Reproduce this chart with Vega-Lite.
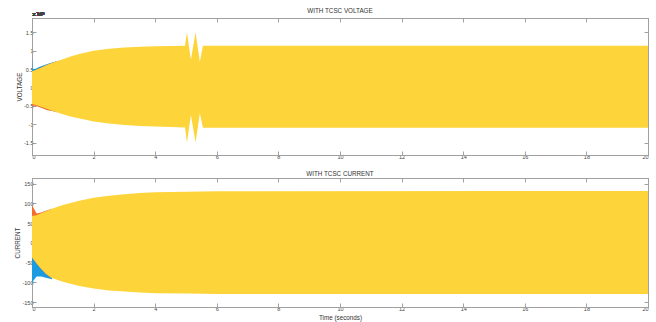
{
  "$schema": "https://vega.github.io/schema/vega-lite/v6.json",
  "padding": {"left": 14, "top": 7, "right": 4, "bottom": 0},
  "spacing": 9,
  "config": {
    "font": "Liberation Sans",
    "view": {"stroke": "#a0a0a0", "strokeWidth": 1},
    "axis": {"grid": false, "domainColor": "#a0a0a0", "tickColor": "#8a8a8a", "labelColor": "#444444", "titleColor": "#333333", "labelFontSize": 5.5, "titleFontSize": 6.3, "titleFontWeight": "normal", "tickSize": -4, "tickWidth": 0.8, "domainWidth": 1, "labelPadding": 3},
    "title": {"fontSize": 6.3, "fontWeight": "normal", "color": "#333333", "offset": 3}
  },
  "datasets": {
    "volt": [
      {"s": "A", "t": 0, "lo": -45000, "hi": 80000},
      {"s": "A", "t": 0.02, "lo": -45500, "hi": 50000},
      {"s": "A", "t": 0.1, "lo": -47000, "hi": 50000},
      {"s": "A", "t": 0.25, "lo": -51000, "hi": 56000},
      {"s": "A", "t": 0.5, "lo": -59000, "hi": 64000},
      {"s": "A", "t": 0.7, "lo": -65000, "hi": 69000},
      {"s": "A", "t": 0.8, "lo": -67000, "hi": 71000},
      {"s": "B", "t": 0, "lo": -60000, "hi": 44000},
      {"s": "B", "t": 0.02, "lo": -50000, "hi": 44500},
      {"s": "B", "t": 0.1, "lo": -50000, "hi": 47000},
      {"s": "B", "t": 0.25, "lo": -54000, "hi": 52000},
      {"s": "B", "t": 0.5, "lo": -62000, "hi": 62000},
      {"s": "B", "t": 0.7, "lo": -65000, "hi": 68000},
      {"s": "B", "t": 0.8, "lo": -67500, "hi": 71000},
      {"s": "C", "t": 0, "lo": -45000, "hi": 44000},
      {"s": "C", "t": 0.1, "lo": -47000, "hi": 47000},
      {"s": "C", "t": 0.25, "lo": -51000, "hi": 52000},
      {"s": "C", "t": 0.5, "lo": -59000, "hi": 62000},
      {"s": "C", "t": 0.75, "lo": -66000, "hi": 70000},
      {"s": "C", "t": 1, "lo": -73000, "hi": 77000},
      {"s": "C", "t": 1.25, "lo": -79000, "hi": 84000},
      {"s": "C", "t": 1.5, "lo": -84000, "hi": 90000},
      {"s": "C", "t": 1.75, "lo": -88000, "hi": 95000},
      {"s": "C", "t": 2, "lo": -93000, "hi": 100000},
      {"s": "C", "t": 2.5, "lo": -98000, "hi": 105000},
      {"s": "C", "t": 3, "lo": -102000, "hi": 109000},
      {"s": "C", "t": 3.5, "lo": -105000, "hi": 111000},
      {"s": "C", "t": 4, "lo": -106500, "hi": 112000},
      {"s": "C", "t": 4.5, "lo": -108000, "hi": 113000},
      {"s": "C", "t": 4.97, "lo": -109000, "hi": 113500},
      {"s": "C", "t": 5.03, "lo": -150000, "hi": 150000},
      {"s": "C", "t": 5.16, "lo": -75000, "hi": 75000},
      {"s": "C", "t": 5.31, "lo": -150000, "hi": 150000},
      {"s": "C", "t": 5.45, "lo": -70000, "hi": 70000},
      {"s": "C", "t": 5.55, "lo": -109500, "hi": 113500},
      {"s": "C", "t": 8, "lo": -109500, "hi": 113500},
      {"s": "C", "t": 12, "lo": -109500, "hi": 113500},
      {"s": "C", "t": 16, "lo": -109500, "hi": 113500},
      {"s": "C", "t": 20, "lo": -109500, "hi": 113500}
    ],
    "curr": [
      {"s": "A", "t": 0, "lo": -105, "hi": 68},
      {"s": "A", "t": 0.03, "lo": -97, "hi": 68.5},
      {"s": "A", "t": 0.15, "lo": -85, "hi": 70},
      {"s": "A", "t": 0.3, "lo": -85, "hi": 75},
      {"s": "A", "t": 0.45, "lo": -88, "hi": 80},
      {"s": "A", "t": 0.65, "lo": -92, "hi": 86},
      {"s": "B", "t": 0, "lo": -37, "hi": 97},
      {"s": "B", "t": 0.05, "lo": -42, "hi": 88},
      {"s": "B", "t": 0.15, "lo": -52, "hi": 74},
      {"s": "B", "t": 0.3, "lo": -66, "hi": 77},
      {"s": "B", "t": 0.45, "lo": -78, "hi": 81},
      {"s": "B", "t": 0.6, "lo": -88, "hi": 85},
      {"s": "C", "t": 0, "lo": -37, "hi": 68},
      {"s": "C", "t": 0.15, "lo": -52, "hi": 70},
      {"s": "C", "t": 0.3, "lo": -66, "hi": 75},
      {"s": "C", "t": 0.45, "lo": -78, "hi": 80},
      {"s": "C", "t": 0.64, "lo": -89, "hi": 86},
      {"s": "C", "t": 1, "lo": -98, "hi": 96},
      {"s": "C", "t": 1.5, "lo": -108, "hi": 106},
      {"s": "C", "t": 2, "lo": -115, "hi": 114},
      {"s": "C", "t": 2.5, "lo": -120, "hi": 119},
      {"s": "C", "t": 3, "lo": -123, "hi": 123},
      {"s": "C", "t": 3.5, "lo": -125.5, "hi": 126},
      {"s": "C", "t": 4, "lo": -127, "hi": 128},
      {"s": "C", "t": 5, "lo": -128, "hi": 129.5},
      {"s": "C", "t": 6, "lo": -129, "hi": 130.5},
      {"s": "C", "t": 20, "lo": -129, "hi": 131}
    ]
  },
  "vconcat": [
    {
      "title": {"text": "WITH TCSC VOLTAGE", "offset": -3},
      "width": 616,
      "height": 137,
      "data": {"name": "volt"},
      "resolve": {"axis": {"x": "independent", "y": "independent"}},
      "layer": [
        {
          "transform": [{"filter": "datum.s == 'A'"}],
          "mark": {"type": "area", "color": "#1B9BE0", "clip": true},
          "encoding": {
            "x": {"field": "t", "type": "quantitative", "scale": {"domain": [0, 20], "nice": false}, "axis": {"orient": "bottom", "values": [0, 2, 4, 6, 8, 10, 12, 14, 16, 18, 20], "title": null, "labelPadding": 3.5}},
            "y": {"field": "hi", "type": "quantitative", "scale": {"domain": [-184000, 189000], "nice": false, "zero": false}, "axis": {"orient": "left", "values": [-150000, -100000, -50000, 0, 50000, 100000, 150000], "labelExpr": "'' + datum.value/100000", "title": "VOLTAGE", "titlePadding": 1}},
            "y2": {"field": "lo"}
          }
        },
        {
          "transform": [{"filter": "datum.s == 'B'"}],
          "mark": {"type": "area", "color": "#F26D2E", "clip": true},
          "encoding": {
            "x": {"field": "t", "type": "quantitative", "axis": {"orient": "top", "values": [0, 2, 4, 6, 8, 10, 12, 14, 16, 18, 20], "labels": false, "title": null}},
            "y": {"field": "hi", "type": "quantitative", "axis": {"orient": "right", "values": [-150000, -100000, -50000, 0, 50000, 100000, 150000], "labels": false, "title": null}},
            "y2": {"field": "lo"}
          }
        },
        {
          "transform": [{"filter": "datum.s == 'C'"}],
          "mark": {"type": "area", "color": "#FDD53A", "clip": true},
          "encoding": {
            "x": {"field": "t", "type": "quantitative", "axis": null},
            "y": {"field": "hi", "type": "quantitative", "axis": null},
            "y2": {"field": "lo"}
          }
        },
        {
          "mark": {"type": "text", "text": "×10⁵", "font": "DejaVu Sans", "align": "left", "baseline": "bottom", "fontSize": 5, "color": "#444444", "dy": -1.5, "dx": 0},
          "encoding": {
            "x": {"datum": 0, "type": "quantitative", "axis": null},
            "y": {"datum": 189000, "type": "quantitative", "axis": null}
          }
        }
      ]
    },
    {
      "title": {"text": "WITH TCSC CURRENT", "offset": 0.5},
      "width": 616,
      "height": 129,
      "data": {"name": "curr"},
      "resolve": {"axis": {"x": "independent", "y": "independent"}},
      "layer": [
        {
          "transform": [{"filter": "datum.s == 'A'"}],
          "mark": {"type": "area", "color": "#1B9BE0", "clip": true},
          "encoding": {
            "x": {"field": "t", "type": "quantitative", "scale": {"domain": [0, 20], "nice": false}, "axis": {"orient": "bottom", "values": [0, 2, 4, 6, 8, 10, 12, 14, 16, 18, 20], "title": "Time (seconds)", "titlePadding": 3}},
            "y": {"field": "hi", "type": "quantitative", "scale": {"domain": [-162, 164], "nice": false, "zero": false}, "axis": {"orient": "left", "values": [-150, -100, -50, 0, 50, 100, 150], "labelExpr": "'' + datum.value", "title": "CURRENT", "titlePadding": 1}},
            "y2": {"field": "lo"}
          }
        },
        {
          "transform": [{"filter": "datum.s == 'B'"}],
          "mark": {"type": "area", "color": "#F26D2E", "clip": true},
          "encoding": {
            "x": {"field": "t", "type": "quantitative", "axis": {"orient": "top", "values": [0, 2, 4, 6, 8, 10, 12, 14, 16, 18, 20], "labels": false, "title": null}},
            "y": {"field": "hi", "type": "quantitative", "axis": {"orient": "right", "values": [-150, -100, -50, 0, 50, 100, 150], "labels": false, "title": null}},
            "y2": {"field": "lo"}
          }
        },
        {
          "transform": [{"filter": "datum.s == 'C'"}],
          "mark": {"type": "area", "color": "#FDD53A", "clip": true},
          "encoding": {
            "x": {"field": "t", "type": "quantitative", "axis": null},
            "y": {"field": "hi", "type": "quantitative", "axis": null},
            "y2": {"field": "lo"}
          }
        }
      ]
    }
  ]
}
